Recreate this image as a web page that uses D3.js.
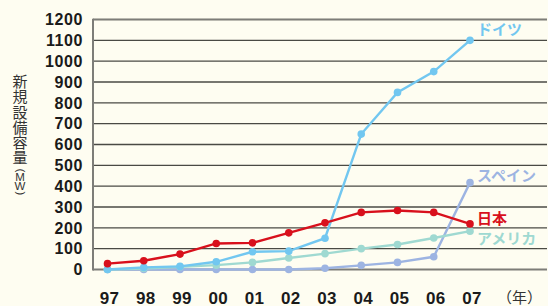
<!DOCTYPE html>
<html>
<head>
<meta charset="utf-8">
<script src="https://cdn.jsdelivr.net/npm/d3@7"></script>
<style>
  html, body { margin: 0; padding: 0; background: #fefdf1; }
  svg { display: block; }
</style>
</head>
<body>
<div id="chart"></div>
<script>
/**
 * New installed capacity by country (MW), 1997-2007.
 */
const years = ['97', '98', '99', '00', '01', '02', '03', '04', '05', '06', '07'];
const yTicks = [0, 100, 200, 300, 400, 500, 600, 700, 800, 900, 1000, 1100, 1200];

const germany = [0, 10, 15, 37, 85, 88, 150, 650, 850, 950, 1100];
const spain = [0, 0, 0, 0, 0, 0, 6, 20, 34, 61, 417];
const usa = [0, 5, 13, 21, 34, 55, 76, 100, 120, 151, 184];
const japan = [28, 42, 74, 125, 128, 176, 224, 274, 283, 274, 219];

const seriesList = [
  { name: 'スペイン', values: spain, color: '#9db4e2', labelDy: -7 },
  { name: 'アメリカ', values: usa, color: '#9fd9d1', labelDy: 7 },
  { name: 'ドイツ', values: germany, color: '#72c7f0', labelDy: -11 },
  { name: '日本', values: japan, color: '#d8101c', labelDy: -5.5 },
];

const width = 548;
const height = 306;
const left = 93;
const right = 547;

const svg = d3.select('#chart').append('svg')
  .attr('width', width)
  .attr('height', height);

svg.append('rect')
  .attr('width', width)
  .attr('height', height)
  .attr('fill', '#fefdf1');

const x = d3.scalePoint().domain(years).range([107.5, 470]);
const y = d3.scaleLinear().domain([0, 1200]).range([269.5, 19.5]);

// grid lines
svg.append('g')
  .selectAll('line')
  .data(yTicks.filter(d => d > 0))
  .enter().append('line')
  .attr('x1', left)
  .attr('x2', right)
  .attr('y1', d => y(d))
  .attr('y2', d => y(d))
  .attr('stroke', '#4a4a44')
  .attr('stroke-width', 1.4);

// axes lines
svg.append('line')
  .attr('x1', left).attr('x2', right)
  .attr('y1', y(0)).attr('y2', y(0))
  .attr('stroke', '#7d7d78').attr('stroke-width', 2);
svg.append('line')
  .attr('x1', left).attr('x2', left)
  .attr('y1', y(1200) - 0.7).attr('y2', y(0) + 1)
  .attr('stroke', '#7d7d78').attr('stroke-width', 2);
svg.append('line')
  .attr('x1', left).attr('x2', right)
  .attr('y1', y(1200)).attr('y2', y(1200))
  .attr('stroke', '#7d7d78').attr('stroke-width', 1.6);

// y tick labels
svg.append('g')
  .selectAll('text')
  .data(yTicks)
  .enter().append('text')
  .attr('x', 83)
  .attr('y', d => y(d))
  .attr('dy', '0.36em')
  .attr('text-anchor', 'end')
  .attr('font-family', 'Liberation Sans, Arial, sans-serif')
  .attr('font-weight', 'bold')
  .attr('font-size', 16)
  .attr('letter-spacing', 0.6)
  .attr('fill', '#1a1a1a')
  .text(d => d);

// x tick labels
svg.append('g')
  .selectAll('text')
  .data(years)
  .enter().append('text')
  .attr('x', d => x(d) + 2)
  .attr('y', 303.5)
  .attr('text-anchor', 'middle')
  .attr('font-family', 'Liberation Sans, Arial, sans-serif')
  .attr('font-weight', 'bold')
  .attr('font-size', 17)
  .attr('letter-spacing', 0.4)
  .attr('fill', '#1a1a1a')
  .text(d => d);

svg.append('text')
  .attr('x', 497)
  .attr('y', 302.5)
  .attr('font-family', 'Noto Sans CJK JP, sans-serif')
  .attr('font-size', 15)
  .attr('fill', '#333')
  .text('（年）');

// y axis title, vertical
svg.append('text')
  .attr('x', 20)
  .attr('y', 74)
  .attr('font-family', 'Noto Sans CJK JP, sans-serif')
  .attr('font-size', 15)
  .attr('letter-spacing', 0.2)
  .attr('fill', '#333')
  .style('writing-mode', 'vertical-rl')
  .style('text-orientation', 'upright')
  .text('新規設備容量');
// unit: parens turned sideways, letters kept upright
svg.append('text')
  .attr('x', '16.9 15.2 14.6 16.9')
  .attr('y', '168.5 181 189.5 191.5')
  .attr('rotate', '90 0 0 90')
  .attr('font-family', 'Liberation Sans, Arial, sans-serif')
  .attr('font-size', 11.5)
  .attr('fill', '#333')
  .text('(MW)');

const line = d3.line()
  .x((d, i) => x(years[i]))
  .y(d => y(d));

seriesList.forEach(s => {
  const g = svg.append('g');
  g.append('path')
    .datum(s.values)
    .attr('d', line)
    .attr('fill', 'none')
    .attr('stroke', s.color)
    .attr('stroke-width', 2.4);
  g.selectAll('circle')
    .data(s.values)
    .enter().append('circle')
    .attr('cx', (d, i) => x(years[i]))
    .attr('cy', d => y(d))
    .attr('r', 3.8)
    .attr('fill', s.color);
  const last = s.values[s.values.length - 1];
  g.append('text')
    .attr('x', 477)
    .attr('y', y(last) + s.labelDy)
    .attr('dy', '0.36em')
    .attr('font-family', 'Noto Sans CJK JP, sans-serif')
    .attr('font-weight', 'bold')
    .attr('font-size', 15)
    .attr('fill', s.color)
    .text(s.name);
});
</script>
</body>
</html>
